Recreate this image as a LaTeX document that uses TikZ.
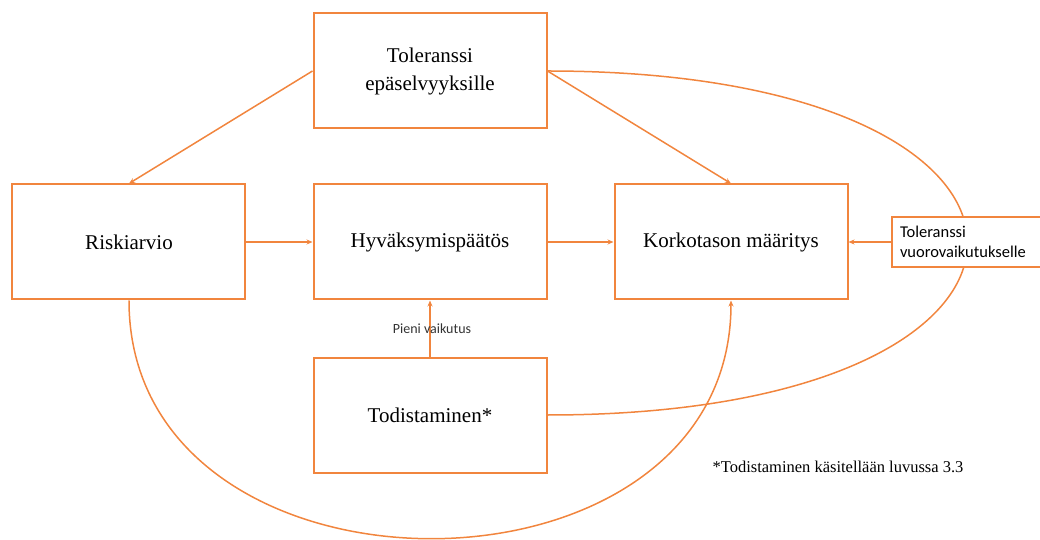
\documentclass[tikz,border=0pt]{standalone}
\usepackage{fontspec}
\setmainfont{Liberation Serif}
\newfontfamily\calibri{Carlito}
\usepackage{tikz}
\pgfdeclarelayer{background}
\pgfdeclarelayer{foreground}
\usetikzlibrary{arrows.meta}
\pgfsetlayers{background,main,foreground}
\definecolor{orng}{RGB}{241,133,62}
\tikzset{
   line/.style ={
      -, line width=1.5pt, color=orng,
   },
   arrow/.style ={
      -{Stealth[length=6pt,width=5pt]}, line width=1.5pt, color=orng,
   },
   box/.style ={
      rectangle, draw=orng, fill=white, line width=2pt,
      minimum height=115pt, minimum width=233pt,
      font=\fontsize{21}{28}\selectfont, align=center,
   },
}

\begin{document}
\begin{tikzpicture}

      \useasboundingbox (-430pt,242pt) rectangle (610pt,-298pt);

      \node[box] (tol)  at (0pt,171pt)   {Toleranssi\\epäselvyyksille};
      \node[box] (risk) at (-301pt,0pt)  {Riskiarvio};
      \node[box] (hyv)  at (0pt,0pt)     {Hyväksymispäätös};
      \node[box] (kork) at (301pt,0pt)   {Korkotason määritys};
      \node[box] (tod)  at (0pt,-173pt)  {Todistaminen*};

      \node[
         rectangle,
         draw=orng,
         fill=white,
         line width=2pt,
         anchor=west,
         minimum height=50pt,
         text width=140pt,
         inner xsep=8pt,
         align=left,
         font=\calibri\fontsize{16.5}{19.5}\selectfont,
      ] (vuoro) at (461pt,0pt) {Toleranssi\\vuorovaikutukselle};

      \node[
         font=\fontsize{16.5}{20}\selectfont,
      ] (note) at (408pt,-225pt) {*Todistaminen käsitellään luvussa 3.3};

      \draw[arrow] (tol.west)   -- (risk.north);
      \draw[arrow] (tol.east)   -- (kork.north);
      \draw[arrow] (risk.east)  -- (hyv.west);
      \draw[arrow] (hyv.east)   -- (kork.west);
      \draw[arrow] (vuoro.west) -- (kork.east);
      \draw[arrow] (tod.north)  -- node[
         font=\calibri\fontsize{14}{16}\selectfont,
         text=black!80,
         xshift=2pt,
      ] (pieni) {Pieni vaikutus} (hyv.south);

      \begin{pgfonlayer}{background}
         \draw[line]  (tol.east)   .. controls +(560pt,0pt) and +(560pt,0pt) .. (tod.east);
         \draw[arrow] (risk.south) .. controls +(0pt,-317pt) and +(0pt,-317pt) .. (kork.south);
      \end{pgfonlayer}

\end{tikzpicture}
\end{document}
